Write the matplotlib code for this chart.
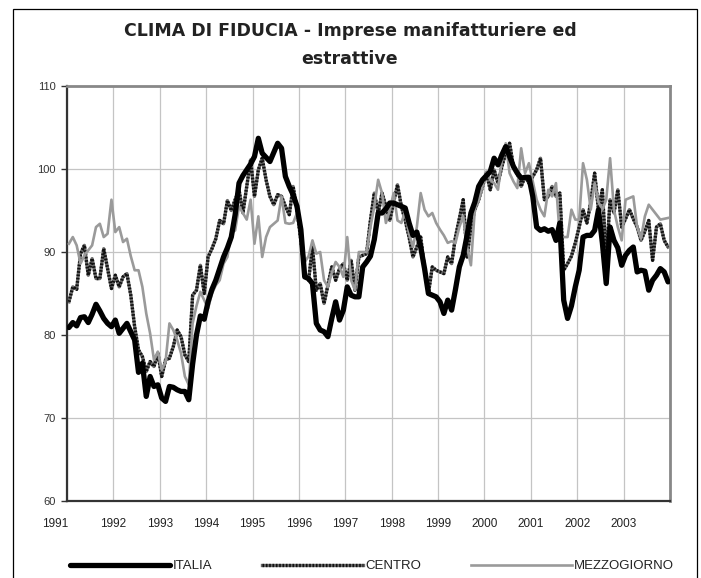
import matplotlib
matplotlib.use("Agg")
import matplotlib.pyplot as plt
import numpy as np
from matplotlib.patches import Rectangle
from matplotlib.legend_handler import HandlerTuple
from matplotlib.transforms import ScaledTranslation

plt.rcParams['font.family'] = ['Liberation Sans', 'DejaVu Sans']

years = [str(y) for y in range(1991, 2004)]

# monthly values, Jan 1991 - Dec 2003
italia = [
    80.9, 81.5, 81.1, 82.1, 82.2, 81.5, 82.5, 83.7, 82.9, 82.0, 81.4, 81.0,
    81.8, 80.2, 80.8, 81.4, 80.4, 79.4, 75.5, 76.6, 72.6, 75.0, 73.8, 74.0,
    72.4, 72.0, 73.8, 73.7, 73.4, 73.2, 73.2, 72.2, 76.5, 80.0, 82.3, 81.9,
    84.0, 85.5, 86.6, 88.0, 89.4, 90.5, 91.8, 94.5, 98.3, 99.2, 99.9, 100.6,
    101.5, 103.7, 101.9, 101.4, 100.9, 102.0, 103.1, 102.5, 99.1, 97.9, 96.9, 95.5,
    92.7, 87.0, 86.8, 86.2, 81.4, 80.6, 80.4, 79.8, 82.0, 84.0, 81.8, 83.0,
    85.8, 84.8, 84.6, 84.6, 88.2, 88.8, 89.5, 91.5, 94.7, 94.7, 95.2, 95.9,
    95.9, 95.7, 95.5, 95.3, 93.5, 92.0, 92.4, 90.6, 88.0, 85.0, 84.8, 84.6,
    84.0, 82.6, 84.2, 83.0, 85.5, 88.2, 89.6, 92.0, 94.7, 96.0, 97.9, 98.7,
    99.2, 99.7, 101.3, 100.5, 101.7, 102.7, 101.5, 100.3, 99.5, 98.9, 99.0, 99.0,
    96.7, 93.0, 92.6, 92.8, 92.5, 92.7, 91.4, 93.5, 84.2, 82.0, 83.5, 85.8,
    87.8, 91.8, 92.0, 92.0, 92.6, 95.1, 91.1, 86.2, 93.0, 91.4, 90.5, 88.4,
    89.6, 90.2, 90.6, 87.6, 87.8, 87.7, 85.4, 86.6, 87.2, 88.0, 87.6, 86.4,
]

centro = [
    84.0, 85.8, 85.5, 89.8, 90.8, 87.2, 89.2, 86.8, 86.8, 90.4, 88.0, 85.6,
    87.2, 85.8, 87.0, 87.4, 84.8, 81.0, 78.2, 77.4, 75.6, 76.8, 76.2, 77.8,
    75.0, 77.0, 77.2, 78.6, 80.6, 79.8, 77.6, 76.8, 84.8, 85.4, 88.4, 85.0,
    89.4, 90.4, 91.6, 93.8, 93.4, 96.2, 95.0, 96.3, 97.5, 94.7, 97.9, 101.1,
    96.7, 99.9, 101.3, 98.7, 96.7, 95.7, 96.9, 96.7, 95.5, 94.5, 97.9, 95.1,
    91.4, 87.4, 86.6, 90.6, 85.4, 86.2, 83.8, 86.0, 88.2, 86.6, 88.0, 88.6,
    86.6, 89.0, 85.4, 89.4, 89.6, 89.8, 93.8, 97.1, 94.7, 97.1, 95.5, 93.8,
    96.0, 98.1, 95.5, 93.8, 91.8, 89.4, 90.6, 91.8, 88.0, 85.0, 88.2, 87.8,
    87.6, 87.4, 89.4, 88.6, 91.8, 94.0, 96.3, 89.4, 93.0, 95.1, 96.3, 97.9,
    99.5, 97.5, 99.9, 98.3, 100.3, 101.9, 103.1, 100.3, 99.5, 97.9, 99.1, 98.3,
    99.1, 99.9, 101.3, 96.3, 96.7, 97.9, 96.7, 97.1, 87.8, 88.6, 89.5, 91.1,
    93.0, 95.1, 93.5, 96.0, 99.5, 95.1, 97.5, 89.0, 96.3, 94.7, 97.5, 93.0,
    94.0, 95.1, 94.0, 93.0, 91.4, 92.5, 93.8, 89.0, 93.0, 93.4, 91.4, 90.6,
]

mezzogiorno = [
    91.0, 91.8, 90.8, 88.6, 89.6, 90.2, 90.8, 93.0, 93.4, 91.8, 92.2, 96.3,
    92.4, 93.0, 91.2, 91.6, 89.5, 87.8, 87.8, 85.8, 82.6, 80.2, 77.0, 78.0,
    75.8, 76.8, 81.4, 80.6, 79.4, 77.8, 75.0, 74.0, 81.4, 83.5, 85.2, 84.2,
    83.2, 85.0, 86.0, 86.6, 88.6, 89.4, 92.3, 92.6, 95.5, 94.7, 93.9, 96.3,
    91.0, 94.3, 89.4, 91.8, 93.0, 93.4, 93.8, 96.7, 93.5, 93.4, 93.5, 94.7,
    92.3, 88.8, 89.5, 91.4, 89.8, 90.0, 86.6, 85.8, 87.5, 88.8, 88.2, 87.0,
    91.8, 86.6, 85.4, 90.0, 90.0, 90.0, 93.0, 95.5, 98.7, 97.1, 93.5, 95.0,
    97.1, 93.8, 93.5, 94.9, 92.2, 90.6, 93.0, 97.1, 95.1, 94.3, 94.7, 93.5,
    92.7, 92.0, 91.1, 91.3, 91.1, 93.0, 94.3, 90.6, 88.4, 95.1, 96.3, 97.9,
    99.7, 98.7, 98.3, 97.5, 101.1, 103.1, 99.5, 98.5, 97.7, 102.5, 99.5, 100.7,
    98.5, 96.3, 95.1, 94.3, 97.5, 96.7, 98.3, 91.8, 91.8, 91.8, 95.1, 93.9,
    93.9, 100.7, 98.7, 95.1, 98.3, 96.0, 95.1, 96.3, 101.3, 95.1, 93.0, 91.4,
    96.3, 96.5, 96.7, 93.0, 91.6, 94.3, 95.7, 95.1, 94.5, 93.9, 94.0, 94.1,
]

title = "CLIMA DI FIDUCIA - Imprese manifatturiere ed\nestrattive"

fig = plt.figure(figsize=(7.01, 5.78), dpi=100)
ax = fig.add_axes([67 / 701, 1 - 501 / 578, 603 / 701, 415 / 578])

x = np.arange(len(italia)) + 0.5

# CENTRO: dark textured line (solid base + dotted overlay)
c_base, = ax.plot(x, centro, color='#6a6a6a', lw=2.4, zorder=2)
c_dots, = ax.plot(x, centro, color='#111111', lw=2.4, ls=(0, (0.5, 0.5)), zorder=2)
m_line, = ax.plot(x, mezzogiorno, color='#9a9a9a', lw=1.9, zorder=3)
i_line, = ax.plot(x, italia, color='black', lw=3.8, solid_capstyle='round',
                  solid_joinstyle='round', zorder=4)

ax.set_xlim(0, len(italia))
ax.set_ylim(60, 110)
ax.set_yticks(range(60, 111, 10))
ax.set_xticks(np.arange(len(years)) * 12)
ax.set_xticklabels(years)
ax.grid(True, color='#c4c4c4', lw=0.9)
ax.set_axisbelow(True)

ax.tick_params(axis='y', length=4, width=1, color='#333333', labelsize=8,
               labelcolor='#333333', pad=4)
ax.tick_params(axis='x', length=0, labelsize=8.5, labelcolor='#222222', pad=12)
# first year label sits a bit to the left of the axis
lbl = ax.get_xticklabels()[0]
lbl.set_transform(lbl.get_transform() + ScaledTranslation(-0.12, 0, fig.dpi_scale_trans))

for side in ['top', 'right']:
    ax.spines[side].set_color('#888888')
    ax.spines[side].set_linewidth(2)
for side in ['left', 'bottom']:
    ax.spines[side].set_color('#333333')
    ax.spines[side].set_linewidth(1.6)

fig.text(350 / 701, 1 - 45 / 578, title, ha='center', va='center',
         fontsize=12.5, fontweight='bold', color='#222222', linespacing=1.75,
         family=['DejaVu Sans'])

fig.legend([i_line, (c_base, c_dots), m_line], ['ITALIA', 'CENTRO', 'MEZZOGIORNO'],
           handler_map={tuple: HandlerTuple(ndivide=1)},
           loc='center', bbox_to_anchor=(372 / 701, 1 - 566 / 578), ncol=3,
           frameon=False, fontsize=9.5, handlelength=7.6, handletextpad=0.2,
           columnspacing=3.8, labelcolor='#222222')

# outer chart frame
fig.patches.append(Rectangle((13 / 701, -0.05), 684 / 701, 1.05 - 9 / 578,
                             transform=fig.transFigure, fill=False,
                             edgecolor='black', lw=0.9))

fig.savefig('out.png', dpi=100)
